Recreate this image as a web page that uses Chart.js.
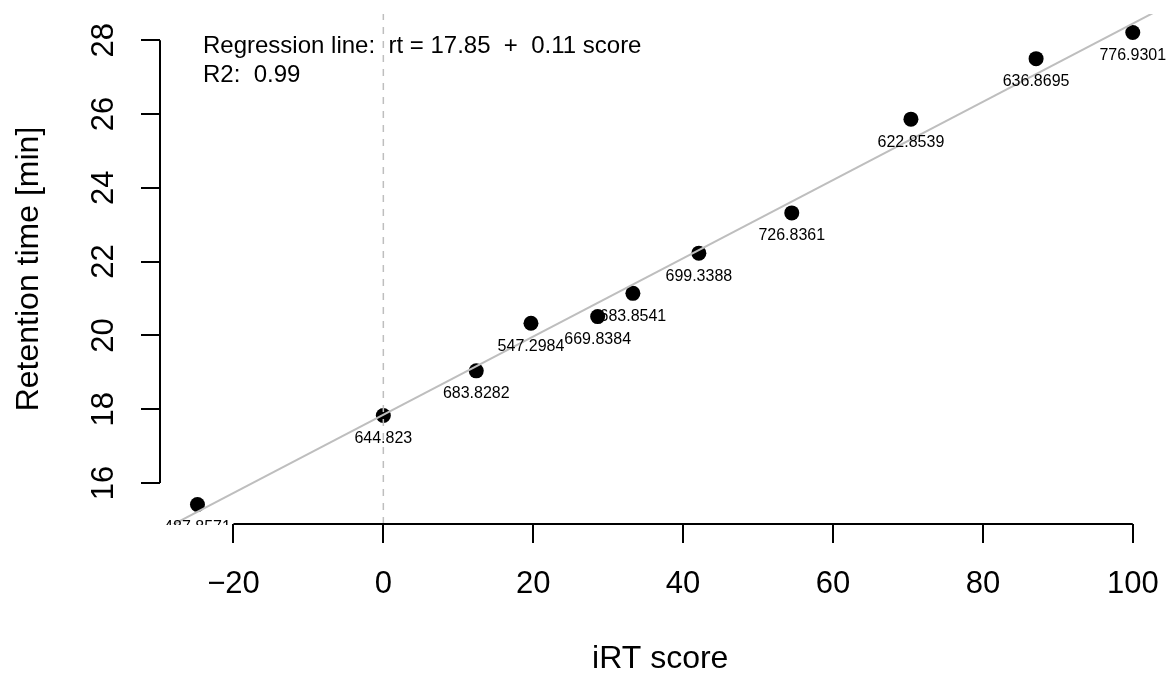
<!DOCTYPE html>
<html lang="en">
<head>
    <meta charset="UTF-8">
    <title>iRT score vs retention time</title>
    <script src="https://cdn.jsdelivr.net/npm/chart.js"></script>
    <style>
        html, body {
            margin: 0;
            padding: 0;
            background: #ffffff;
        }
        .chart-container {
            width: 1168px;
            height: 675px;
        }
    </style>
</head>
<body>
    <div class="chart-container">
        <canvas id="irtChart"></canvas>
    </div>

    <script>
        // values
        const irtScore = [-24.8, 0, 12.4, 19.7, 28.6, 33.3, 42.1, 54.5, 70.4, 87.1, 100];
        const retentionTime = [15.42, 17.83, 19.04, 20.33, 20.51, 21.14, 22.23, 23.32, 25.86, 27.50, 28.21];
        const pointLabels = ['487.8571', '644.823', '683.8282', '547.2984', '669.8384', '683.8541',
                             '699.3388', '726.8361', '622.8539', '636.8695', '776.9301'];
        const xTicks = [-20, 0, 20, 40, 60, 80, 100];
        const yTicks = [16, 18, 20, 22, 24, 26, 28];
        const xRange = [-29.8, 103.7];
        const yRange = [14.89, 28.71];
        const fitIntercept = 17.85;
        const fitSlope = 0.106;
        const annotationLines = ['Regression line:  rt = 17.85  +  0.11 score', 'R2:  0.99'];

        const FONT = '"Liberation Sans", Arial, Helvetica, sans-serif';

        // R-like axes: axis line only from first to last tick, rotated y labels,
        // point labels under the points (clipped at the plot bottom), fit text
        const rStyle = {
            id: 'rStyle',
            afterDatasetsDraw(chart) {
                const {ctx, chartArea, scales: {x, y}} = chart;

                ctx.save();
                ctx.beginPath();
                ctx.rect(chartArea.left, chartArea.top, chart.width - chartArea.left, chartArea.bottom - chartArea.top + 1);
                ctx.clip();
                ctx.fillStyle = '#000';
                ctx.font = '16px ' + FONT;
                ctx.textAlign = 'center';
                ctx.textBaseline = 'middle';
                chart.getDatasetMeta(2).data.forEach((pt, i) => {
                    ctx.fillText(pointLabels[i], pt.x, pt.y + 23);
                });
                ctx.restore();

                ctx.save();
                ctx.strokeStyle = '#000';
                ctx.lineWidth = 2;
                ctx.beginPath();
                ctx.moveTo(x.getPixelForValue(xTicks[0]), chartArea.bottom);
                ctx.lineTo(x.getPixelForValue(xTicks[xTicks.length - 1]), chartArea.bottom);
                ctx.moveTo(chartArea.left, y.getPixelForValue(yTicks[0]));
                ctx.lineTo(chartArea.left, y.getPixelForValue(yTicks[yTicks.length - 1]));
                ctx.stroke();

                ctx.fillStyle = '#000';
                ctx.font = '31px ' + FONT;
                ctx.textAlign = 'center';
                ctx.textBaseline = 'alphabetic';
                yTicks.forEach(v => {
                    ctx.save();
                    ctx.translate(chartArea.left - 47, y.getPixelForValue(v));
                    ctx.rotate(-Math.PI / 2);
                    ctx.fillText(String(v), 0, 0);
                    ctx.restore();
                });

                ctx.font = '24px ' + FONT;
                ctx.textAlign = 'left';
                ctx.textBaseline = 'middle';
                annotationLines.forEach((line, i) => {
                    ctx.fillText(line, chartArea.left + 43, chartArea.top + 32 + i * 29);
                });
                ctx.restore();
            }
        };

        const axisGrid = {
            drawOnChartArea: false,
            drawTicks: true,
            tickLength: 19,
            color: '#000',
            lineWidth: 2
        };

        const ctx = document.getElementById('irtChart').getContext('2d');
        const chart = new Chart(ctx, {
            type: 'scatter',
            data: {
                datasets: [{
                    // regression line
                    type: 'line',
                    data: xRange.map(v => ({x: v, y: fitIntercept + fitSlope * v})),
                    borderColor: '#bebebe',
                    borderWidth: 2,
                    pointRadius: 0,
                    fill: false
                }, {
                    // dashed line at score 0
                    type: 'line',
                    data: yRange.map(v => ({x: 0, y: v})),
                    borderColor: '#bebebe',
                    borderWidth: 1.5,
                    borderDash: [7, 7],
                    pointRadius: 0,
                    fill: false
                }, {
                    data: irtScore.map((v, i) => ({x: v, y: retentionTime[i]})),
                    backgroundColor: '#000',
                    borderWidth: 0,
                    pointRadius: 7.5,
                    pointHoverRadius: 7.5
                }]
            },
            options: {
                responsive: true,
                maintainAspectRatio: false,
                animation: false,
                layout: {
                    padding: {top: 14, left: 0, right: 0, bottom: 0}
                },
                scales: {
                    x: {
                        type: 'linear',
                        min: xRange[0],
                        max: xRange[1],
                        afterBuildTicks: s => { s.ticks = xTicks.map(v => ({value: v})); },
                        afterFit: s => {
                            s.height = 151;
                            s.paddingLeft = 0;
                            s.paddingRight = 0;
                        },
                        grid: axisGrid,
                        border: {display: false},
                        ticks: {
                            color: '#000',
                            font: {family: FONT, size: 31, lineHeight: 1},
                            padding: 26,
                            maxRotation: 0,
                            autoSkip: false,
                            callback: v => v < 0 ? '\u2212' + Math.abs(v) : String(v)
                        },
                        title: {
                            display: true,
                            text: 'iRT score',
                            color: '#000',
                            font: {family: FONT, size: 32, lineHeight: 1},
                            padding: {top: 0, bottom: 0}
                        }
                    },
                    y: {
                        type: 'linear',
                        min: yRange[0],
                        max: yRange[1],
                        afterBuildTicks: s => { s.ticks = yTicks.map(v => ({value: v})); },
                        afterFit: s => {
                            s.width = 160;
                            s.paddingTop = 0;
                            s.paddingBottom = 0;
                        },
                        grid: axisGrid,
                        border: {display: false},
                        ticks: {display: false},
                        title: {
                            display: true,
                            text: 'Retention time [min]',
                            color: '#000',
                            font: {family: FONT, size: 32, lineHeight: 1},
                            padding: {top: 13, bottom: 0}
                        }
                    }
                },
                plugins: {
                    legend: {display: false},
                    tooltip: {enabled: false}
                }
            },
            plugins: [rStyle]
        });
    </script>
</body>
</html>
